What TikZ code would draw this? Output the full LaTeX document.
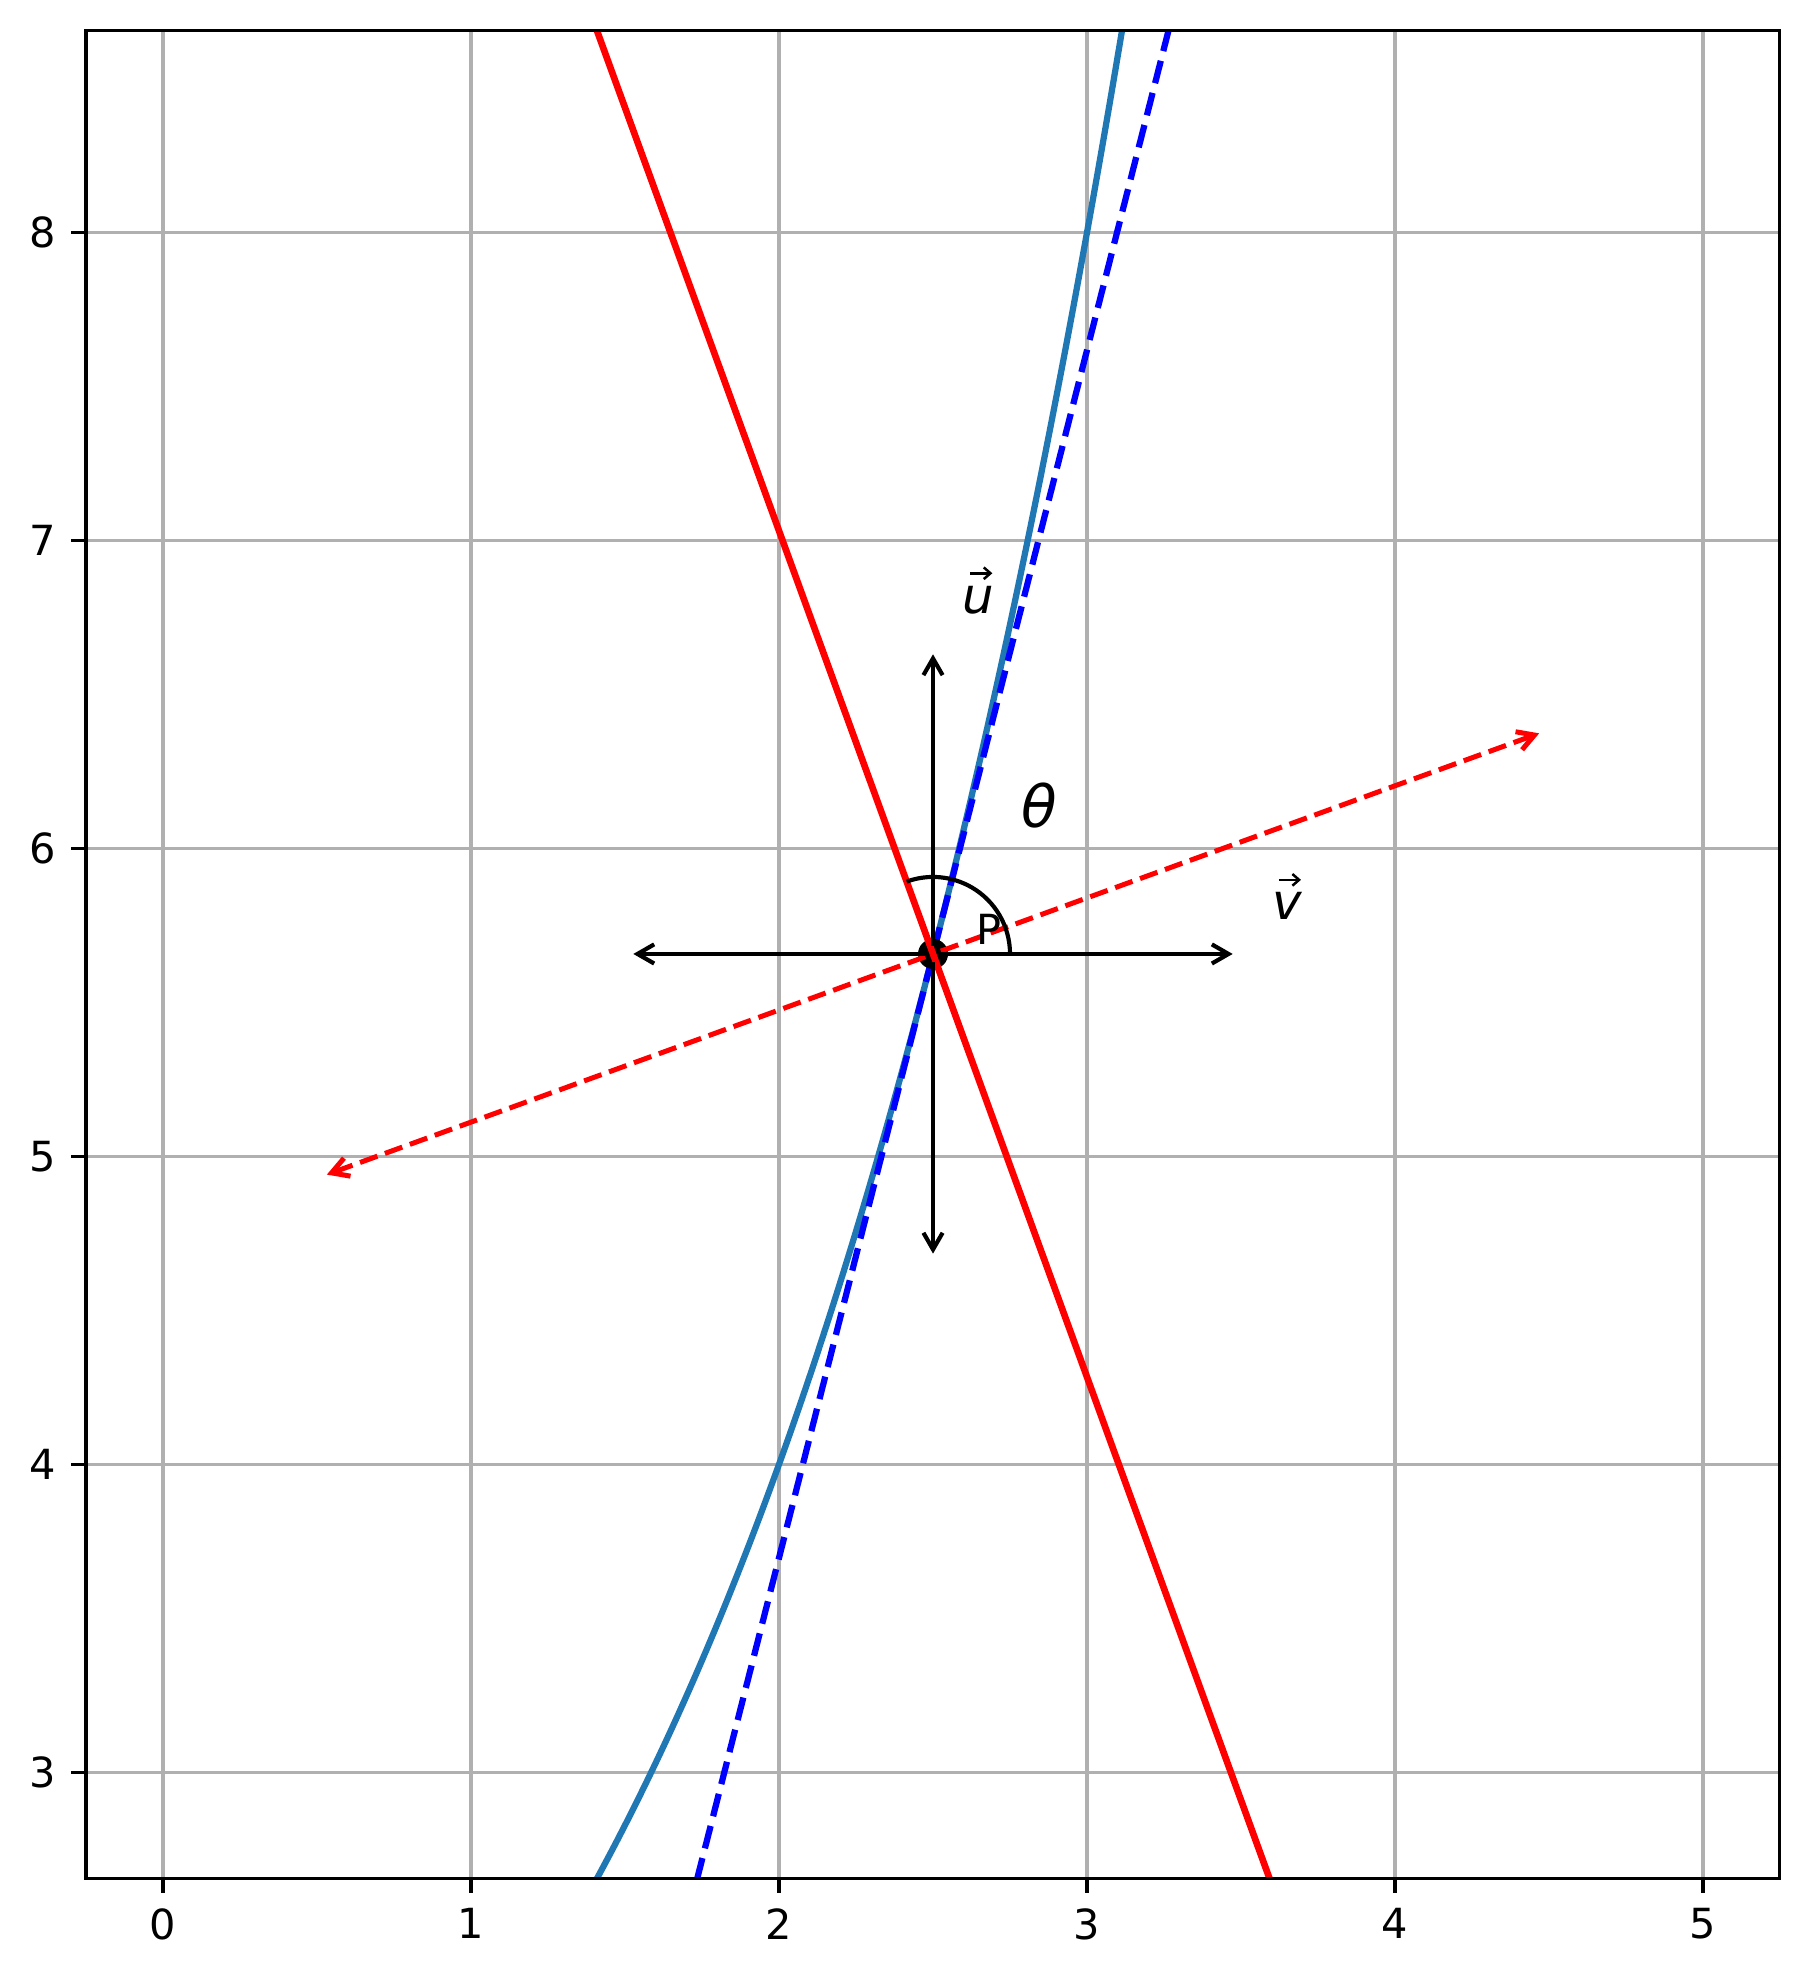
\documentclass[tikz,border=0pt]{standalone}
\usepackage{fontspec}
\setmainfont{DejaVu Sans}
\usetikzlibrary{arrows.meta}
\definecolor{mplblue}{HTML}{1F77B4}
\definecolor{gridgray}{HTML}{B0B0B0}
\tikzset{
  gridline/.style={draw=gridgray, line width=0.8bp},
  spine/.style={draw=black, line width=0.8bp},
  tickmark/.style={draw=black, line width=0.8bp},
  ticklabel/.style={inner sep=0pt, font=\fontsize{10}{12}\selectfont},
  expcurve/.style={draw=mplblue, line width=1.5bp, line join=round},
  tangentline/.style={draw=blue, line width=1.5bp, dash pattern=on 5.55bp off 2.4bp},
  normalline/.style={draw=red, line width=1.6bp},
  redarrow/.style={draw=red, line width=1.2bp, dash pattern=on 4.44bp off 1.92bp,
    -{Straight Barb[length=4bp,width=4.6bp]}, shorten <=2bp, shorten >=2bp},
  blackarrow/.style={draw=black, line width=1bp,
    -{Straight Barb[length=4bp,width=4.6bp]}, shorten <=2bp, shorten >=2bp},
  anglearc/.style={draw=black, line width=1bp},
  vecaccent/.style={draw=black, line width=0.6bp, -{Straight Barb[length=1.6bp,width=2.8bp]}},
  veclabel/.style={inner sep=0pt, font=\fontsize{12}{14}\selectfont\itshape},
}
\begin{document}
\begin{tikzpicture}[x=73.932bp,y=73.932bp]
\useasboundingbox (-0.52914,2.33550) rectangle (5.34329,8.75410);
\coordinate (P) at (2.5,5.65685);
\begin{scope}
  \clip (-0.25,2.6559) rectangle (5.2491,8.6545);
  \foreach \x in {0,...,5} \draw[gridline] (\x,2.6559) -- (\x,8.6545);
  \foreach \y in {3,...,8} \draw[gridline] (-0.25,\y) -- (5.2491,\y);
  \draw[expcurve] plot[domain=1.3:3.2, samples=120, smooth] (\x,{exp(0.693147*\x)});
  \coordinate (T1) at (1.6,2.12790);
  \coordinate (T2) at (3.4,9.18580);
  \draw[tangentline] (T1) -- (T2);
  \node[circle, fill=black, inner sep=0pt, minimum size=7.2bp] (Pdot) at (P) {};
  \coordinate (N1) at (1.30293,8.94577);
  \coordinate (N2) at (3.69707,2.36793);
  \draw[normalline] (N1) -- (N2);
\end{scope}
% rotated red vectors
\coordinate (R1) at (4.49337,6.38238);
\coordinate (R2) at (0.50663,4.93132);
\draw[redarrow] (P) -- (R1);
\draw[redarrow] (P) -- (R2);
% black vectors
\coordinate (U1) at (2.5,6.65685);
\coordinate (U2) at (2.5,4.65685);
\coordinate (V1) at (3.5,5.65685);
\coordinate (V2) at (1.5,5.65685);
\draw[blackarrow] (P) -- (U1);
\draw[blackarrow] (P) -- (U2);
\draw[blackarrow] (P) -- (V1);
\draw[blackarrow] (P) -- (V2);
% angle arc
\draw[anglearc] ([shift={(0.25,0)}]P) arc[start angle=0, end angle=110, radius=0.25];
% labels
\node[anchor=base west, inner sep=0pt, font=\fontsize{10}{12}\selectfont] (Plabel) at (2.639,5.6864) {P};
\node[veclabel, anchor=base] (ulabel) at (2.648,6.763) {u};
\draw[vecaccent] ([xshift=-2.0bp, yshift=9.6bp]ulabel.base) -- ([xshift=3.3bp, yshift=9.6bp]ulabel.base);
\node[veclabel, anchor=base] (vlabel) at (3.650,5.7676) {v};
\draw[vecaccent] ([xshift=-2.0bp, yshift=9.6bp]vlabel.base) -- ([xshift=3.3bp, yshift=9.6bp]vlabel.base);
\node[anchor=center, inner sep=0pt, font=\fontsize{14}{16}\selectfont\itshape] (thlabel) at (2.844,6.138) {θ};
% spines
\draw[spine] (-0.25,2.6559) rectangle (5.2491,8.6545);
% ticks and labels
\foreach \x in {0,...,5} {
  \draw[tickmark] (\x,2.6559) -- ++(0,-0.04734);
  \node[ticklabel, anchor=north] (xl\x) at (\x,2.56122) {\x};
}
\foreach \y in {3,...,8} {
  \draw[tickmark] (-0.25,\y) -- ++(-0.04734,0);
  \node[ticklabel, anchor=east] (yl\y) at (-0.34468,\y) {\y};
}
\end{tikzpicture}
\end{document}
